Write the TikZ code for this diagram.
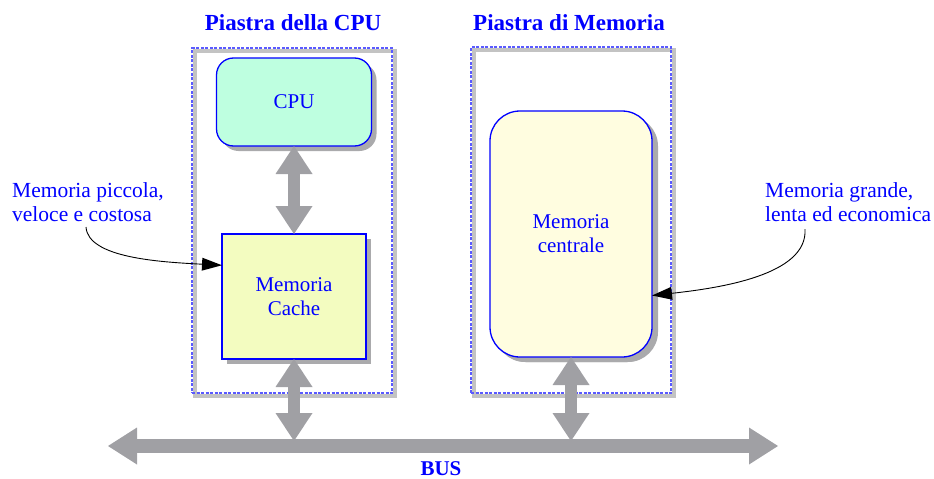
\documentclass[tikz,border=0pt]{standalone}
\usepackage{fontspec}
\setmainfont{Liberation Serif}
\usetikzlibrary{arrows.meta,calc,shadows}
\definecolor{txtblue}{RGB}{0,0,255}
\definecolor{boardblue}{RGB}{90,90,255}
\definecolor{bandgray}{RGB}{195,195,195}
\definecolor{shadowgray}{RGB}{170,170,172}
\definecolor{arrowgray}{RGB}{160,160,164}
\definecolor{cpufill}{RGB}{190,255,224}
\definecolor{cachefill}{RGB}{243,252,192}
\definecolor{memfill}{RGB}{255,253,224}
\begin{document}
\begin{tikzpicture}[x=1pt,y=-1pt,
  lbl/.style={text=txtblue,font=\fontsize{21.5}{24}\selectfont,align=center,inner sep=0pt},
  ttl/.style={text=txtblue,font=\fontsize{23}{26}\selectfont\bfseries,inner sep=0pt},
  board/.style={draw=boardblue,dash pattern=on 3pt off 1.5pt,line width=1.2pt,inner sep=0pt,outer sep=0pt},
  band/.style={draw=bandgray,line width=4.5pt},
  unit/.style={draw=txtblue,line width=1.3pt,inner sep=0pt,outer sep=0pt,
    text=txtblue,font=\fontsize{21}{24}\selectfont,align=center,
    drop shadow={shadow xshift=5pt,shadow yshift=-5pt,fill=shadowgray,opacity=1}},
  fat/.style={draw=arrowgray,line width=12pt,
    {Triangle[length=28pt,width=37pt,line width=0pt]}-{Triangle[length=28pt,width=37pt,line width=0pt]}},
  busarrow/.style={draw=arrowgray,line width=14pt,
    {Triangle[length=29pt,width=37pt,line width=0pt]}-{Triangle[length=29pt,width=37pt,line width=0pt]}},
  callout/.style={draw=black,line width=0.9pt,-{Triangle[length=20pt,width=13pt,line width=0pt]}}
]
\useasboundingbox (0,0) rectangle (934,479);

% boards
\draw[band] (195,51) rectangle (395,396);
\node[board,minimum width=200pt,minimum height=345pt] (cpub) at (292,220.5) {};
\draw[band] (474,50) rectangle (674,396);
\node[board,minimum width=200pt,minimum height=346pt] (memb) at (571,220) {};

\node[ttl] (tcpu) at (293,23) {Piastra della CPU};
\node[ttl] (tmem) at (569,23) {Piastra di Memoria};

% units
\node[unit,fill=cpufill,rounded corners=17pt,minimum width=155pt,minimum height=88pt] (cpu) at (294,102) {CPU};
\node[unit,fill=cachefill,minimum width=144pt,minimum height=125pt] (cache) at (294,296.5) {Memoria\\Cache};
\node[unit,fill=memfill,rounded corners=30pt,minimum width=162pt,minimum height=246pt,
  drop shadow={shadow xshift=6pt,shadow yshift=-5pt,fill=shadowgray,opacity=1}] (memc) at (571,234) {Memoria\\centrale};

% bus
\coordinate (busL) at (108,446);
\coordinate (busR) at (778,446);
\coordinate (j1) at (294,441);
\coordinate (j2) at (571,441);
\draw[busarrow] (busL) -- (busR);
\node[ttl,font=\fontsize{21}{24}\selectfont\bfseries] (bus) at (441,469) {BUS};

% vertical arrows
\draw[fat] (cpu.south) -- (cache.north);
\draw[fat] (cache.south) -- (j1);
\draw[fat] (memc.south) -- (j2);

% callouts
\node[lbl,anchor=west,align=left] (lnote) at (12,202) {Memoria piccola,\\veloce e costosa};
\node[lbl,anchor=west,align=left] (rnote) at (765,202) {Memoria grande,\\lenta ed economica};
\coordinate (ls) at (86,227);
\coordinate (rs) at (805,229);
\draw[callout] (ls) .. controls (88,258) and (160,262) .. ($(cache.north west)!0.25!(cache.south west)$);
\draw[callout] (rs) .. controls (808,275) and (720,288) .. ($(memc.north east)!0.75!(memc.south east)$);
\end{tikzpicture}
\end{document}
